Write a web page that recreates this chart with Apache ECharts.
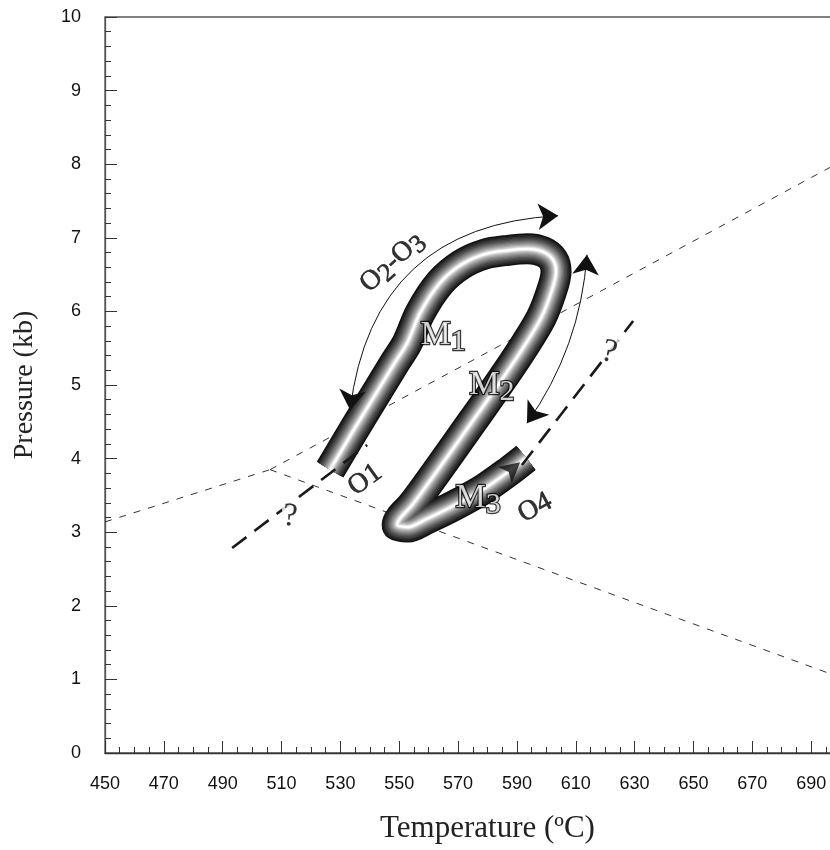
<!DOCTYPE html>
<html><head><meta charset="utf-8">
<script src="https://cdn.jsdelivr.net/npm/echarts@6/dist/echarts.min.js"></script>
<style>html,body{margin:0;padding:0;background:#fff}#c{width:830px;height:850px}</style>
</head><body><div id="c"></div>
<script>
// P-T path (tube) centre line
const pathT = [526.5,535.0,542.8,548.6,552.7,557.1,563.9,571.3,579.2,587.0,593.7,598.9,602.3,603.3,601.9,598.2,591.7,584.3,575.1,567.3,560.5,554.4,550.3,549.3,553.0,558.8,569.0,579.2,587.0,593.1];
const pathP = [3.85,4.42,4.93,5.31,5.57,5.98,6.39,6.64,6.78,6.83,6.85,6.81,6.70,6.54,6.29,5.91,5.48,5.04,4.52,4.08,3.70,3.37,3.19,3.10,3.07,3.17,3.37,3.60,3.82,4.01];
// thin dashed reaction lines
const rxnLeftT = [450, 506.1];
const rxnLeftP = [3.14, 3.85];
const rxnUpT = [506.1, 710];
const rxnUpP = [3.85, 8.25];
const rxnDownT = [506.1, 710];
const rxnDownP = [3.85, 0.88];
// thick dashed uncertain boundary
const bndLeftT = [493.2, 539.1];
const bndLeftP = [2.785, 4.185];
const bndRightT = [591.7, 629.5];
const bndRightP = [3.913, 5.870];
// curved double arrows [start, end]
const arcO2O3T = [533.3, 604.0];
const arcO2O3P = [4.66, 7.30];
const arcRightT = [593.4, 613.8];
const arcRightP = [4.48, 6.77];
// single arrow head at O4 end
const arrowO4T = [591.1];
const arrowO4P = [3.95];
// annotations
const labelText = ['O2-O3','M1','M2','M3','O1','O4','?','?'];
const labelT = [547.6, 564.9, 581.5, 576.8, 538.4, 596.2, 512.9, 621.3];
const labelP = [6.67, 5.68, 5.00, 3.465, 3.71, 3.33, 3.21, 5.44];
// axis ticks
const xMin = 450, xMax = 710, xStep = 20, xLastLabel = 690;
const yMin = 0, yMax = 10, yStep = 1;

const zip = (a, b) => a.map((v, i) => [v, b[i]]);
const serif = "'Liberation Serif','DejaVu Serif',serif";
const sans = "'Liberation Sans',Arial,sans-serif";

const series = [];
const dashThin = {type:'line', symbol:'none', silent:true, z:1,
  lineStyle:{color:'#333', width:1, type:[7,8]}};
series.push(Object.assign({}, dashThin, {data: zip(rxnLeftT, rxnLeftP)}));
series.push(Object.assign({}, dashThin, {data: zip(rxnUpT, rxnUpP)}));
series.push(Object.assign({}, dashThin, {data: zip(rxnDownT, rxnDownP)}));

// tube made of stacked strokes
const widths = [31,28,25,22,19,16.5,14,11.5,9,6.5,4.2,2.2];
const colors = ['#111','#222','#333','#454545','#575757','#6a6a6a','#7e7e7e','#939393','#aaa','#c4c4c4','#e2e2e2','#fff'];
const tubeData = zip(pathT, pathP);
widths.forEach((w, i) => {
  series.push({type:'line', symbol:'none', silent:true, z:2, smooth:0.3, data: tubeData,
    lineStyle:{color: colors[i], width: w, cap:'butt', join:'round'}});
});

const dashThick = {type:'line', symbol:'none', silent:true, z:3,
  lineStyle:{color:'#1a1a1a', width:2.6, type:[18,10]}};
series.push(Object.assign({}, dashThick, {data: zip(bndLeftT, bndLeftP)}));
series.push(Object.assign({}, dashThick, {data: zip(bndRightT, bndRightP)}));

series.push({type:'lines', coordinateSystem:'cartesian2d', silent:true, z:4,
  symbol:['arrow','arrow'], symbolSize:20,
  data:[
    {coords: zip(arcO2O3T, arcO2O3P), lineStyle:{curveness:0.42}},
    {coords: zip(arcRightT, arcRightP), lineStyle:{curveness:-0.14}}
  ],
  lineStyle:{color:'#111', width:1, opacity:1}
});

series.push({type:'scatter', silent:true, z:4, symbol:'arrow', symbolSize:[16,20], symbolRotate:-50,
  itemStyle:{color:'#111'}, data: zip(arrowO4T, arrowO4P)});

const mRich = {
  m:{fontFamily:serif, fontSize:34, color:'#fff', textBorderColor:'#000', textBorderWidth:2.4, lineHeight:44, verticalAlign:'middle'},
  s:{fontFamily:serif, fontSize:30, color:'#fff', textBorderColor:'#000', textBorderWidth:2.4, lineHeight:28, verticalAlign:'bottom'},
  o:{fontFamily:serif, fontSize:28, color:'#000', textBorderColor:'#000', textBorderWidth:0.6, lineHeight:36, verticalAlign:'middle'},
  os:{fontFamily:serif, fontSize:26, color:'#000', textBorderColor:'#000', textBorderWidth:0.6, lineHeight:24, verticalAlign:'bottom'},
  q:{fontFamily:serif, fontSize:33, color:'#000', lineHeight:36, verticalAlign:'middle',
     textBorderColor:'#fff', textBorderWidth:6}
};
function labelFor(t, i) {
  if (t === 'O2-O3') return {formatter:'{o|O}{os|2}{o|-O}{os|3}', rotate:42};
  if (t[0] === 'M') return {formatter:'{m|M}{s|' + t.slice(1) + '}', rotate:0};
  if (t === 'O1') return {formatter:'{o|O1}', rotate:36};
  if (t === 'O4') return {formatter:'{o|O4}', rotate:28};
  return {formatter:'{q|' + t + '}', rotate: i === 7 ? -15 : -5};
}
const labelData = labelText.map((t, i) => ({value:[labelT[i], labelP[i]],
  label:Object.assign({show:true, position:'inside', rich:mRich}, labelFor(t, i))}));
series.push({type:'scatter', silent:true, z:6, symbolSize:0, data:labelData});

const chart = echarts.init(document.getElementById('c'), null, {renderer:'canvas'});
chart.setOption({
  animation:false,
  backgroundColor:'#fff',
  grid:{left:105, top:17, right:-40, bottom:97, show:true, borderColor:'#555', borderWidth:1.3,
    containLabel:false, outerBoundsMode:'none'},
  xAxis:{type:'value', min:xMin, max:xMax, interval:xStep,
    axisLine:{onZero:false, lineStyle:{color:'#333', width:1.3}},
    axisTick:{inside:true, length:12, lineStyle:{color:'#333'}},
    minorTick:{show:true, splitNumber:4, length:6, lineStyle:{color:'#333'}},
    splitLine:{show:false},
    axisLabel:{margin:22, fontSize:18, color:'#111', fontFamily:sans,
      formatter: v => ((v - xMin) % xStep === 0 && v <= xLastLabel) ? String(v) : ''},
    name:'Temperature (ºC)', nameLocation:'middle', nameGap:60,
    nameTextStyle:{fontFamily:serif, fontSize:31, color:'#222'}},
  yAxis:{type:'value', min:yMin, max:yMax, interval:yStep,
    axisLine:{onZero:false, lineStyle:{color:'#555', width:1.3}},
    axisTick:{inside:true, length:12, lineStyle:{color:'#333'}},
    minorTick:{show:true, splitNumber:5, length:6, lineStyle:{color:'#333'}},
    splitLine:{show:false},
    axisLabel:{margin:24, fontSize:18, color:'#111', fontFamily:sans},
    name:'Pressure (kb)', nameLocation:'middle', nameGap:66, nameRotate:90,
    nameTextStyle:{fontFamily:serif, fontSize:28, color:'#222'}},
  series: series
});
</script></body></html>
